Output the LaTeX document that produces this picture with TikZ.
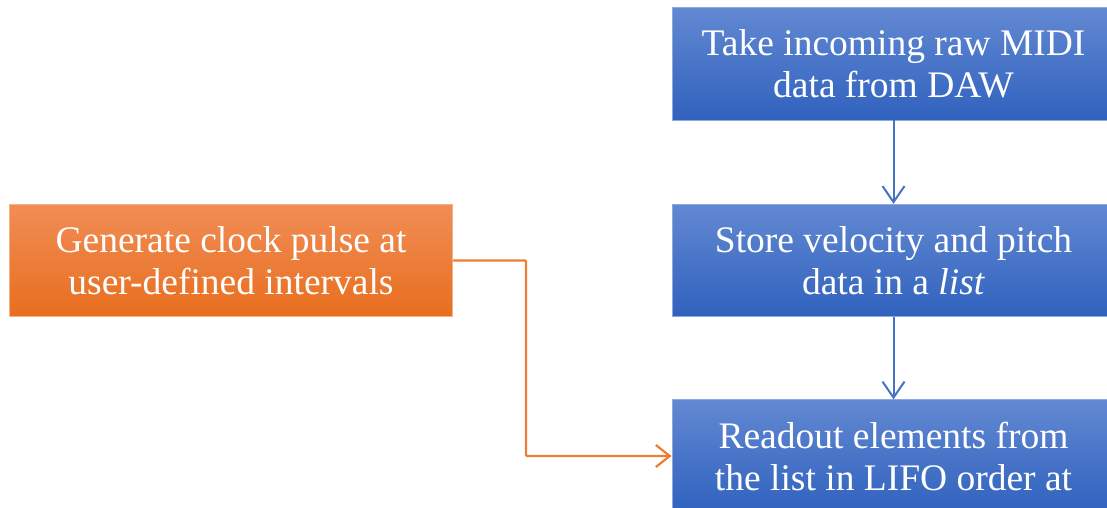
\documentclass[tikz,border=0pt]{standalone}
\usepackage{fontspec}
\setmainfont{Liberation Serif}
\usetikzlibrary{arrows.meta,positioning}

\definecolor{bluetop}{RGB}{98,136,210}
\definecolor{bluebot}{RGB}{48,98,190}
\definecolor{blueedge}{RGB}{140,168,222}
\definecolor{bluelink}{RGB}{68,114,196}
\definecolor{orangetop}{RGB}{241,141,86}
\definecolor{orangebot}{RGB}{232,110,30}
\definecolor{orangeedge}{RGB}{246,178,132}
\definecolor{orangelink}{RGB}{237,125,49}

\tikzset{
  stepbox/.style={rectangle, minimum width=443pt, minimum height=112.5pt,
    inner sep=0pt, align=center, text=white, line width=0.8pt,
    font=\fontsize{37.5}{42}\selectfont},
  bluebox/.style={stepbox, draw=blueedge, top color=bluetop, bottom color=bluebot},
  orangebox/.style={stepbox, draw=orangeedge, top color=orangetop, bottom color=orangebot},
  bluelinkstyle/.style={draw=bluelink, line width=2pt,
    -{Straight Barb[length=16pt,width=22pt,line width=2pt]}},
  orangelinkstyle/.style={draw=orangelink, line width=2.2pt, rounded corners=1pt,
    -{Straight Barb[length=14pt,width=22pt,line width=2.2pt]}}
}

\begin{document}
\begin{tikzpicture}[x=1pt,y=-1pt]
  \useasboundingbox (0,0) rectangle (1107,508);
  \clip (0,0) rectangle (1107,508);

  % process column
  \node[bluebox] (take) at (893.5,63.75) {Take incoming raw MIDI\\data from DAW};
  \node[bluebox] (store) at (893.5,260.5) {Store velocity and pitch\\data in a \textit{list}};
  \node[bluebox] (read) at (893.5,456) {Readout elements from\\the list in LIFO order at};

  % clock source
  \node[orangebox] (clock) at (231,260.5) {Generate clock pulse at\\user-defined intervals};

  % connectors
  \draw[bluelinkstyle] (take.south) -- (store.north);
  \draw[bluelinkstyle] (store.south) -- (read.north);
  \coordinate (elbow) at (526,260.5);
  \draw[orangelinkstyle] (clock.east) -- (elbow) |- (read.west);
\end{tikzpicture}
\end{document}
